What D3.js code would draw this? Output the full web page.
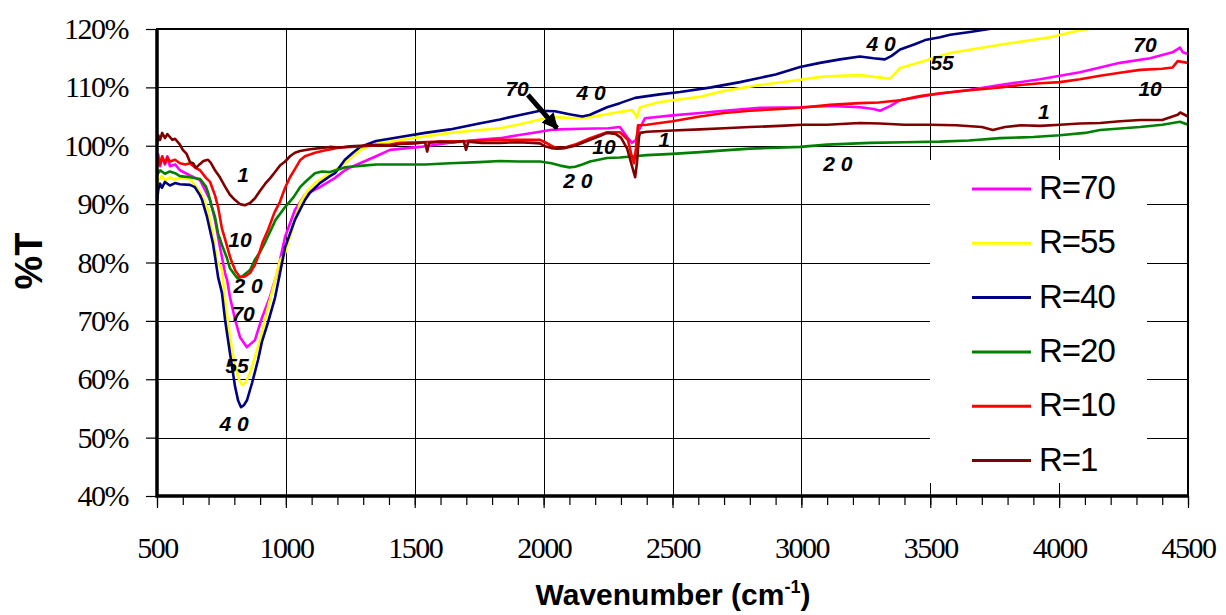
<!DOCTYPE html>
<html>
<head>
<meta charset="utf-8">
<script src="https://cdn.jsdelivr.net/npm/d3@7"></script>
<style>
  body { margin: 0; background: #fff; }
  svg { display: block; }
</style>
</head>
<body>
<div id="chart"></div>
<script>
// tick values
var xTicks = [500, 1000, 1500, 2000, 2500, 3000, 3500, 4000, 4500];
var xMinor = d3.range(500, 4501, 100);
var yTicks = [40, 50, 60, 70, 80, 90, 100, 110, 120];

// spectra: [wavenumber, %T]
var r70 = [[500,97.0],[505,98.5],[512,96.5],[520,98.0],[531,96.8],[540,98.2],[550,96.5],[570,96.8],[589,95.8],[628,94.9],[667,94.1],[706,90.7],[725,87.3],[744,82.7],[764,78.2],[772,77.0],[783,74.1],[803,70.2],[822,67.2],[849,65.5],[880,66.7],[907,70.5],[938,74.1],[966,78.2],[997,84.4],[1035,89.0],[1074,91.6],[1132,92.9],[1191,94.5],[1229,95.8],[1250,96.3],[1288,97.0],[1350,98.2],[1404,99.3],[1520,99.8],[1637,100.5],[1750,101.0],[1831,101.3],[1900,101.8],[1986,102.4],[2025,102.7],[2064,102.8],[2150,102.9],[2250,103.0],[2296,103.2],[2324,101.5],[2343,100.5],[2358,101.0],[2366,102.4],[2393,104.7],[2500,105.2],[2607,105.6],[2700,106.0],[2839,106.5],[2995,106.6],[3111,106.8],[3227,106.6],[3280,106.3],[3305,106.0],[3344,106.8],[3383,107.8],[3499,108.7],[3654,109.6],[3771,110.4],[3926,111.4],[4081,112.6],[4236,114.2],[4353,115.0],[4440,116.0],[4469,116.8],[4480,116.0],[4500,115.7]];
var r55 = [[500,92.9],[505,94.0],[519,94.8],[531,94.0],[550,94.6],[570,94.2],[589,94.5],[628,94.3],[667,92.1],[694,89.5],[713,85.6],[733,80.4],[752,78.7],[764,73.6],[783,67.2],[803,62.1],[818,60.0],[830,59.0],[845,59.5],[861,61.1],[880,63.8],[907,67.9],[931,72.4],[958,77.0],[977,80.4],[997,81.6],[1024,85.6],[1055,90.2],[1080,92.0],[1113,93.6],[1171,95.3],[1229,97.0],[1288,99.3],[1350,100.3],[1443,101.0],[1540,101.6],[1637,102.2],[1750,102.7],[1831,103.0],[1900,103.6],[1986,104.5],[2050,104.9],[2120,104.7],[2180,104.9],[2246,105.4],[2296,105.8],[2343,106.1],[2355,105.4],[2362,104.8],[2374,106.6],[2450,107.5],[2607,108.4],[2700,109.4],[2839,110.4],[2995,111.3],[3072,111.8],[3150,112.0],[3227,112.1],[3280,111.8],[3344,111.5],[3383,113.3],[3460,114.3],[3577,115.9],[3771,117.3],[3965,118.6],[4081,119.8],[4159,120.3],[4300,121.2],[4500,122.5]];
var r40 = [[500,90.5],[505,92.5],[512,93.5],[519,92.8],[531,93.8],[550,93.2],[570,93.6],[589,93.4],[628,93.3],[647,92.9],[667,91.5],[675,90.7],[694,87.8],[717,83.3],[733,78.7],[737,77.5],[752,74.8],[764,70.2],[783,64.5],[803,58.7],[815,56.3],[826,55.2],[838,55.6],[849,56.4],[869,59.4],[892,63.3],[907,66.4],[931,69.8],[958,74.0],[977,78.1],[997,82.6],[1035,87.3],[1074,90.7],[1094,92.0],[1132,93.6],[1171,94.8],[1191,95.3],[1229,97.6],[1260,98.8],[1288,99.8],[1350,100.8],[1443,101.5],[1540,102.2],[1637,102.8],[1750,103.8],[1831,104.5],[1900,105.2],[1986,106.0],[2044,105.9],[2100,105.4],[2150,105.0],[2180,105.3],[2246,106.6],[2296,107.3],[2355,108.2],[2450,108.8],[2529,109.2],[2650,110.0],[2762,110.9],[2900,112.2],[2995,113.5],[3072,114.2],[3150,114.8],[3227,115.3],[3280,115.0],[3324,114.8],[3350,115.4],[3383,116.5],[3440,117.4],[3480,118.1],[3538,118.6],[3577,119.0],[3654,119.5],[3771,120.3],[3900,121.2],[4100,122.5]];
var r20 = [[500,95.0],[512,95.8],[531,95.2],[550,95.6],[570,95.3],[589,94.8],[628,94.6],[667,94.3],[690,93.0],[698,92.0],[713,89.5],[725,87.8],[737,85.0],[752,83.0],[771,80.8],[783,79.0],[800,78.0],[812,77.3],[830,77.6],[861,78.7],[880,80.5],[900,81.8],[920,83.5],[938,85.2],[960,87.3],[997,89.5],[1030,91.2],[1055,92.9],[1080,94.0],[1113,95.3],[1140,95.6],[1171,95.5],[1210,96.0],[1229,96.3],[1249,96.4],[1300,96.6],[1350,96.8],[1443,96.8],[1540,96.8],[1637,97.0],[1750,97.2],[1831,97.4],[1900,97.3],[1986,97.3],[2030,97.0],[2064,96.6],[2100,96.3],[2122,96.4],[2150,96.8],[2180,97.3],[2246,97.9],[2296,98.0],[2350,98.2],[2401,98.4],[2500,98.6],[2607,98.9],[2700,99.2],[2800,99.5],[2995,99.8],[3100,100.2],[3266,100.5],[3400,100.6],[3538,100.7],[3650,100.9],[3771,101.3],[3900,101.5],[4003,101.8],[4100,102.2],[4159,102.7],[4314,103.2],[4400,103.6],[4469,104.1],[4500,103.6]];
var r10 = [[500,96.5],[505,97.8],[512,96.8],[520,98.2],[531,97.0],[540,98.0],[550,97.3],[570,97.6],[589,97.0],[610,96.8],[628,97.0],[650,96.2],[667,95.8],[690,94.5],[706,93.8],[725,91.5],[737,89.5],[752,85.8],[764,84.0],[783,81.0],[791,80.0],[805,78.5],[822,77.5],[841,77.6],[861,78.2],[880,79.6],[892,81.0],[910,83.5],[931,85.6],[955,88.5],[977,90.4],[997,92.8],[1016,94.6],[1035,96.0],[1055,97.5],[1074,98.2],[1113,98.8],[1150,99.2],[1210,99.7],[1249,99.8],[1288,99.9],[1350,100.1],[1404,100.2],[1443,100.5],[1520,100.6],[1600,100.7],[1700,100.8],[1800,101.0],[1900,101.0],[1986,101.0],[2005,100.6],[2030,100.0],[2044,99.7],[2064,99.6],[2083,99.7],[2122,100.2],[2180,101.3],[2246,102.3],[2296,102.3],[2316,101.5],[2327,101.0],[2343,98.0],[2351,97.0],[2358,99.5],[2366,103.5],[2374,103.5],[2401,103.6],[2500,104.2],[2607,105.0],[2700,105.6],[2800,106.0],[2917,106.3],[2995,106.5],[3111,107.0],[3227,107.3],[3300,107.4],[3383,107.8],[3460,108.5],[3538,109.0],[3654,109.5],[3771,110.0],[3850,110.4],[3926,110.7],[4003,110.9],[4081,111.4],[4159,112.0],[4236,112.5],[4314,113.0],[4400,113.2],[4440,113.4],[4460,114.5],[4500,114.2]];
var r1 = [[500,100.5],[505,101.8],[512,101.0],[520,102.2],[531,101.3],[540,102.0],[550,101.5],[560,101.0],[570,101.2],[589,100.2],[600,99.3],[615,98.6],[628,97.2],[640,97.0],[651,96.2],[665,96.8],[680,97.4],[698,97.6],[710,97.0],[725,95.8],[744,94.6],[764,93.0],[783,91.6],[803,90.7],[822,90.0],[841,89.8],[861,90.2],[880,91.0],[900,92.3],[920,93.5],[940,94.5],[958,95.5],[977,96.6],[997,97.3],[1016,98.2],[1035,98.8],[1055,99.1],[1094,99.4],[1132,99.6],[1171,99.8],[1210,99.7],[1249,99.9],[1288,100.0],[1350,100.1],[1404,100.0],[1443,100.3],[1500,100.4],[1540,100.6],[1548,99.0],[1556,100.5],[1600,100.7],[1650,100.6],[1690,100.8],[1699,99.3],[1708,100.7],[1760,100.5],[1831,100.5],[1900,100.6],[1960,100.5],[1986,100.4],[2005,99.9],[2030,99.6],[2052,99.5],[2083,99.6],[2122,100.0],[2180,101.0],[2220,101.7],[2246,102.2],[2280,102.0],[2300,101.4],[2324,99.5],[2343,96.5],[2355,94.6],[2362,97.0],[2370,101.5],[2374,102.2],[2401,102.4],[2500,102.6],[2607,102.8],[2700,103.0],[2800,103.2],[2917,103.4],[3000,103.6],[3100,103.6],[3227,103.9],[3305,103.8],[3400,103.6],[3500,103.6],[3600,103.5],[3700,103.2],[3743,102.7],[3790,103.2],[3850,103.5],[3926,103.4],[4003,103.6],[4081,103.8],[4159,103.9],[4236,104.2],[4314,104.4],[4400,104.4],[4460,105.3],[4470,105.7],[4500,105.0]];

var seriesNames = ["R=70", "R=55", "R=40", "R=20", "R=10", "R=1"];
var seriesData = [r70, r55, r40, r20, r10, r1];
var seriesColors = ["#ff00ff", "#ffff00", "#000080", "#008000", "#ff0000", "#800000"];

// in-plot labels: [text, wavenumber, %T]
var curveLabels = [
  ["1", 834, 95.0], ["10", 822, 83.9], ["2 0", 853, 76.1], ["70", 834, 71.3],
  ["55", 810, 62.4], ["4 0", 799, 52.5], ["70", 1897, 109.9], ["4 0", 2184, 109.2],
  ["10", 2234, 99.8], ["2 0", 2133, 94.0], ["1", 2467, 101.0], ["4 0", 3309, 117.6],
  ["55", 3546, 114.3], ["70", 4333, 117.3], ["10", 4353, 109.9], ["1", 3941, 105.8],
  ["2 0", 3142, 97.0]
];
var arrowFrom = [1939, 108.7], arrowTo = [2052, 103.0];

var W = 1226, H = 615;
// plot box (note: "top" is taken by window.top)
var pL = 157, pR = 1188, pT = 29, pB = 496;

var svg = d3.select("#chart").append("svg")
  .attr("width", W).attr("height", H);

var x = d3.scaleLinear().domain([500, 4500]).range([pL, pR]);
var y = d3.scaleLinear().domain([40, 120]).range([pB, pT]);

var defs = svg.append("defs");
defs.append("clipPath").attr("id", "plotclip")
  .append("rect").attr("x", pL).attr("y", pT)
  .attr("width", pR - pL).attr("height", pB - pT);

var marker = defs.append("marker")
  .attr("id", "arrowhead").attr("viewBox", "0 0 10 10")
  .attr("refX", 9).attr("refY", 5)
  .attr("markerWidth", 3.2).attr("markerHeight", 3.2)
  .attr("markerUnits", "strokeWidth").attr("orient", "auto");
marker.append("path").attr("d", "M0,0 L10,5 L0,10 z").attr("fill", "#000");

// grid
var grid = svg.append("g");
grid.selectAll(".hg").data(yTicks.slice(1, -1)).enter().append("line")
  .attr("x1", pL).attr("x2", pR)
  .attr("y1", function(d){ return Math.round(y(d)) + 0.5; })
  .attr("y2", function(d){ return Math.round(y(d)) + 0.5; })
  .attr("stroke", "#000").attr("stroke-width", 1);
grid.selectAll(".vg").data(xTicks.slice(1, -1)).enter().append("line")
  .attr("y1", pT).attr("y2", pB)
  .attr("x1", function(d){ return Math.round(x(d)) + 0.5; })
  .attr("x2", function(d){ return Math.round(x(d)) + 0.5; })
  .attr("stroke", "#000").attr("stroke-width", 1);

// spectra
var line = d3.line()
  .x(function(d){ return x(d[0]); })
  .y(function(d){ return y(d[1]); });

var plot = svg.append("g").attr("clip-path", "url(#plotclip)");
seriesData.forEach(function(s, i){
  plot.append("path").datum(s)
    .attr("d", line)
    .attr("fill", "none")
    .attr("stroke", seriesColors[i])
    .attr("stroke-width", 2.6)
    .attr("stroke-linejoin", "round");
});

// legend box covers the grid there
var legend = svg.append("g");
legend.append("rect")
  .attr("x", 930).attr("y", 160).attr("width", 217).attr("height", 323)
  .attr("fill", "#fff");
seriesNames.forEach(function(n, i){
  var ly = 189 + i * 54.3;
  legend.append("line")
    .attr("x1", 972).attr("x2", 1031).attr("y1", ly).attr("y2", ly)
    .attr("stroke", seriesColors[i]).attr("stroke-width", 3);
  legend.append("text")
    .attr("x", 1039).attr("y", ly + 10)
    .attr("font-family", "Liberation Sans, Arial, sans-serif")
    .attr("font-size", 33).attr("letter-spacing", -1)
    .text(n);
});

// curve labels
svg.append("g").selectAll("text").data(curveLabels).enter().append("text")
  .attr("x", function(d){ return x(d[1]); })
  .attr("y", function(d){ return y(d[2]); })
  .attr("dy", "0.36em")
  .attr("text-anchor", "middle")
  .attr("font-family", "Liberation Sans, Arial, sans-serif")
  .attr("font-size", 21).attr("font-weight", "bold").attr("font-style", "italic")
  .text(function(d){ return d[0]; });

svg.append("line")
  .attr("x1", x(arrowFrom[0])).attr("y1", y(arrowFrom[1]))
  .attr("x2", x(arrowTo[0])).attr("y2", y(arrowTo[1]))
  .attr("stroke", "#000").attr("stroke-width", 5)
  .attr("marker-end", "url(#arrowhead)");

// axes
svg.append("g").attr("transform", "translate(0," + pB + ")")
  .call(d3.axisBottom(x).tickValues(xTicks).tickSize(12).tickPadding(29)
    .tickFormat(d3.format("d")));
svg.append("g").attr("transform", "translate(0," + pB + ")")
  .call(d3.axisBottom(x).tickValues(xMinor).tickSize(9).tickFormat(""));
svg.append("g").attr("transform", "translate(" + pL + ",0)")
  .call(d3.axisLeft(y).tickValues(yTicks).tickSize(11).tickPadding(18)
    .tickFormat(function(d){ return d + "%"; }));

svg.selectAll(".domain").remove();
svg.selectAll(".tick line").attr("stroke", "#000").attr("stroke-width", 1.2);
svg.selectAll(".tick text")
  .attr("font-family", "Liberation Serif, Times New Roman, serif")
  .attr("font-size", 30).attr("letter-spacing", -1.5).attr("fill", "#000");

// frame
svg.append("rect")
  .attr("x", pL).attr("y", pT).attr("width", pR - pL).attr("height", pB - pT)
  .attr("fill", "none").attr("stroke", "#000").attr("stroke-width", 2);
svg.append("path")
  .attr("d", "M" + pL + "," + pT + " V" + pB + " H" + pR)
  .attr("fill", "none").attr("stroke", "#000").attr("stroke-width", 3.5);

// titles
svg.append("text")
  .attr("transform", "translate(42,261) rotate(-90)")
  .attr("text-anchor", "middle")
  .attr("font-family", "Liberation Sans, Arial, sans-serif")
  .attr("font-size", 38).attr("font-weight", "bold")
  .text("%T");

var xt = svg.append("text")
  .attr("x", 673).attr("y", 605)
  .attr("text-anchor", "middle")
  .attr("font-family", "Liberation Sans, Arial, sans-serif")
  .attr("font-size", 30).attr("font-weight", "bold");
xt.append("tspan").text("Wavenumber (cm");
xt.append("tspan").attr("font-size", 18).attr("dy", -12).text("-1");
xt.append("tspan").attr("dy", 12).text(")");
</script>
</body>
</html>
